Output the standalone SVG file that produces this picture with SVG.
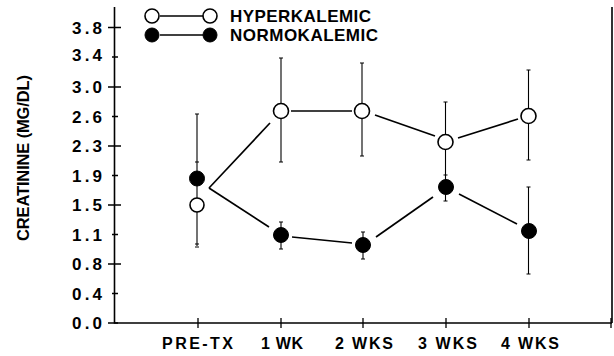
<svg xmlns="http://www.w3.org/2000/svg" width="614" height="356" viewBox="0 0 614 356">
<style>
text{font-family:"Liberation Sans",Arial,sans-serif;font-weight:bold;fill:#000}
.ax{stroke:#000;stroke-width:1.6;fill:none}
.tk{stroke:#000;stroke-width:1.3;fill:none}
.ln{stroke:#000;stroke-width:1.7;fill:none}
.eb{stroke:#000;stroke-width:1.1;fill:none}
.op{fill:#fff;stroke:#000;stroke-width:1.6}
.fl{fill:#000;stroke:#000;stroke-width:1}
.yl{font-size:17px;text-anchor:end}
.xl{font-size:16px;text-anchor:middle}
.lg{font-size:17px}
</style>
<rect width="614" height="356" fill="#fff"/>
<g id="axes">
<path class="ax" d="M114.5,7 V323 H612 M612,7 V323"/>
<path class="tk" d="M108,27.5 H121 M112,57 H118 M108,87 H121 M112,116.5 H118 M108,146 H121 M112,175.5 H118 M108,205 H121 M112,234.5 H118 M108,264 H121 M112,293.5 H118 M108,323 H118"/>
<path class="tk" d="M198,318 V328 M281,318 V328 M363,318 V328 M446,318 V328 M529,318 V328 M611,318 V328"/>
<g class="yl">
<text x="102" y="34" textLength="30">3.8</text>
<text x="102" y="61" textLength="30">3.4</text>
<text x="102" y="93" textLength="30">3.0</text>
<text x="102" y="122.5" textLength="30">2.6</text>
<text x="102" y="152" textLength="30">2.3</text>
<text x="102" y="181.5" textLength="30">1.9</text>
<text x="102" y="211" textLength="30">1.5</text>
<text x="102" y="240.5" textLength="30">1.1</text>
<text x="102" y="270" textLength="30">0.8</text>
<text x="102" y="299.5" textLength="30">0.4</text>
<text x="102" y="329" textLength="30">0.0</text>
</g>
<g class="xl">
<text x="197.5" y="348.5" textLength="71">PRE-TX</text>
<text x="282" y="348.5" textLength="42">1 WK</text>
<text x="364" y="348.5" textLength="58">2 WKS</text>
<text x="447.5" y="348.5" textLength="59">3 WKS</text>
<text x="530" y="348.5" textLength="58">4 WKS</text>
</g>
<text transform="translate(28.5,158) rotate(-90)" font-size="16.5" text-anchor="middle" textLength="166">CREATININE (MG/DL)</text>
</g>
<g id="legend">
<line class="ln" x1="160" y1="16" x2="203" y2="16"/>
<circle class="op" cx="152" cy="16" r="7"/>
<circle class="op" cx="210" cy="16" r="7"/>
<text class="lg" x="230" y="21.5" textLength="141">HYPERKALEMIC</text>
<line class="ln" x1="160" y1="35" x2="203" y2="35"/>
<circle class="fl" cx="152" cy="35" r="7"/>
<circle class="fl" cx="210" cy="35" r="7"/>
<text class="lg" x="230" y="40.5" textLength="148">NORMOKALEMIC</text>
</g>
<g id="connectors">
<polyline class="ln" points="209,188 270,123"/>
<polyline class="ln" points="291,111 352,111"/>
<polyline class="ln" points="375,115 435,136"/>
<polyline class="ln" points="458,138 518,119"/>
<polyline class="ln" points="209,188 269,227"/>
<polyline class="ln" points="292,237 352,243"/>
<polyline class="ln" points="376,237 433,197"/>
<polyline class="ln" points="459,194 517,224"/>
</g>
<g id="errorbars">
<path class="eb" d="M197,114 V246 M195,114 H199 M195,162 H199 M195,244 H199 M195,247 H199"/>
<path class="eb" d="M281,58 V162 M279,58 H283 M279,162 H283"/>
<path class="eb" d="M362,63 V156 M360,63 H364 M360,156 H364"/>
<path class="eb" d="M445.5,102 V201 M443.5,102 H447.5 M443.5,175 H447.5 M443.5,201 H447.5"/>
<path class="eb" d="M528.5,70 V160 M526.5,70 H530.5 M526.5,160 H530.5"/>
<path class="eb" d="M528.5,187 V274 M526.5,187 H530.5 M526.5,274 H530.5"/>
<path class="eb" d="M281,222 V249 M279,222 H283 M279,249 H283"/>
<path class="eb" d="M363,232 V259 M361,232 H365 M361,259 H365"/>
</g>
<g id="hyper-pre"><circle class="op" cx="197" cy="205" r="7"/></g>
<g id="normo-pre"><circle class="fl" cx="197" cy="178.5" r="7.5"/></g>
<g id="hyper-1wk"><circle class="op" cx="281" cy="111" r="7.5"/></g>
<g id="hyper-2wks"><circle class="op" cx="362" cy="111" r="7.5"/></g>
<g id="hyper-3wks"><circle class="op" cx="445.5" cy="142" r="7.5"/></g>
<g id="hyper-4wks"><circle class="op" cx="528.5" cy="116" r="7.5"/></g>
<g id="normo-1wk"><circle class="fl" cx="281" cy="235" r="7.5"/></g>
<g id="normo-2wks"><circle class="fl" cx="363" cy="245" r="7.5"/></g>
<g id="normo-3wks"><circle class="fl" cx="446" cy="187" r="7.5"/></g>
<g id="normo-4wks"><circle class="fl" cx="529" cy="231" r="7.5"/></g>
</svg>
